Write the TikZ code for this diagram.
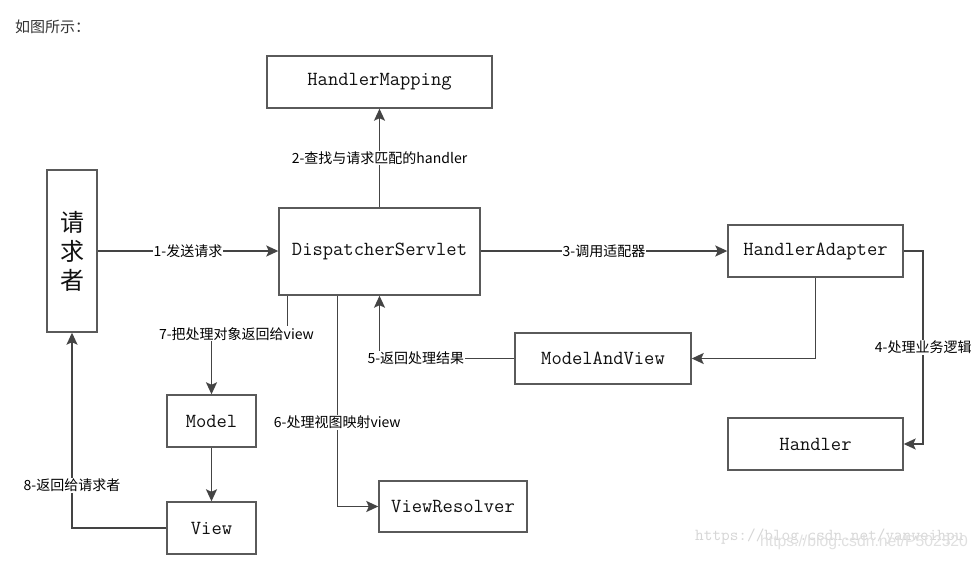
\documentclass[tikz,border=0pt]{standalone}
\usepackage{fontspec}
\setmainfont{Noto Sans CJK SC}
\newfontfamily\cjk{Noto Sans CJK SC}
\newfontfamily\wmsans{Liberation Sans}
\usetikzlibrary{arrows.meta,calc}
\definecolor{edgecol}{HTML}{444444}
\definecolor{bordercol}{HTML}{5A5A5A}
\definecolor{boxtext}{HTML}{111111}
\definecolor{titlecol}{HTML}{333333}
\begin{document}
\begin{tikzpicture}[x=1pt,y=-1pt,
  box/.style={draw=bordercol,line width=1.4pt,fill=white,inner sep=0pt,anchor=center,
    text=boxtext,font=\ttfamily\fontsize{20}{24}\selectfont},
  arr/.style={draw=edgecol,line width=1.5pt,-{Stealth[length=12pt,width=11pt,inset=2.5pt]}},
  lbl/.style={fill=white,inner sep=1pt,text=black,font=\cjk\fontsize{14}{16}\selectfont}]
\useasboundingbox (0,0) rectangle (979,562);
\fill[white] (0,0) rectangle (979,562);
% title
\node[anchor=west,inner sep=0pt,text=titlecol,font=\cjk\fontsize{15}{18}\selectfont] (title) at (15,27) {如图所示：};
% boxes
\node[box,minimum width=225pt,minimum height=52pt] (HM) at (379.5,82) {HandlerMapping};
\node[box,minimum width=50pt,minimum height=162pt,align=center,font=\cjk\fontsize{24}{29}\selectfont] (req) at (72,251) {请\\求\\者};
\node[box,minimum width=201pt,minimum height=87pt] (DS) at (379.5,251.5) {DispatcherServlet};
\node[box,minimum width=175pt,minimum height=52pt] (HA) at (815.5,251) {HandlerAdapter};
\node[box,minimum width=176pt,minimum height=51pt] (MAV) at (603,358.5) {ModelAndView};
\node[box,minimum width=175pt,minimum height=52pt] (H) at (815.5,444) {Handler};
\node[box,minimum width=89pt,minimum height=52pt] (Model) at (211.5,421) {Model};
\node[box,minimum width=89pt,minimum height=52pt] (View) at (211.5,528) {View};
\node[box,minimum width=148pt,minimum height=51pt] (VR) at (453,506.5) {ViewResolver};
% 1
\draw[arr] (req.east) -- node[lbl,pos=0.5]{1-发送请求} (req.east -| DS.west);
% 2
\draw[arr] (DS.north) -- node[lbl,pos=0.5]{2-查找与请求匹配的handler} (HM.south);
% 3
\draw[arr] (HA.west -| DS.east) -- node[lbl,pos=0.5]{3-调用适配器} (HA.west);
% 4
\draw[arr] (HA.east) -- ++(19.5,0) coordinate (c4) -- node[lbl,pos=0.5]{4-处理业务逻辑} (c4 |- H.east) -- (H.east);
% HA -> MAV
\draw[arr] (HA.south) |- (MAV.east);
% 5
\draw[arr] (MAV.west) -- node[lbl,pos=0.73]{5-返回处理结果} (MAV.west -| DS.south) -- (DS.south);
% 6
\draw[arr] ([xshift=59pt]DS.south west) coordinate (s6) -- node[lbl,pos=0.6]{6-处理视图映射view} (s6 |- VR.west) -- (VR.west);
% 7
\draw[arr] ([xshift=9pt]DS.south west) -- ++(0,38) coordinate (c7) -- node[lbl,pos=0.67]{7-把处理对象返回给view} (c7 -| Model.north) -- (Model.north);
% Model -> View
\draw[arr] (Model.south) -- (View.north);
% 8
\draw[arr] (View.west) -- (View.west -| req.south) -- node[lbl,pos=0.22]{8-返回给请求者} (req.south);
% watermark (two overlapping stamps, as in the reference)
\node[anchor=west,inner sep=0pt,text=black!16,font=\ttfamily\fontsize{16.8}{18}\selectfont] (wm1) at (695,537) {https://blog.csdn.net/yanweihpu};
\node[anchor=west,inner sep=0pt,text=black!12,font=\wmsans\fontsize{15.7}{18}\selectfont] (wm2) at (760,542) {https://blog.csdn.net/P502520};
\end{tikzpicture}
\end{document}
